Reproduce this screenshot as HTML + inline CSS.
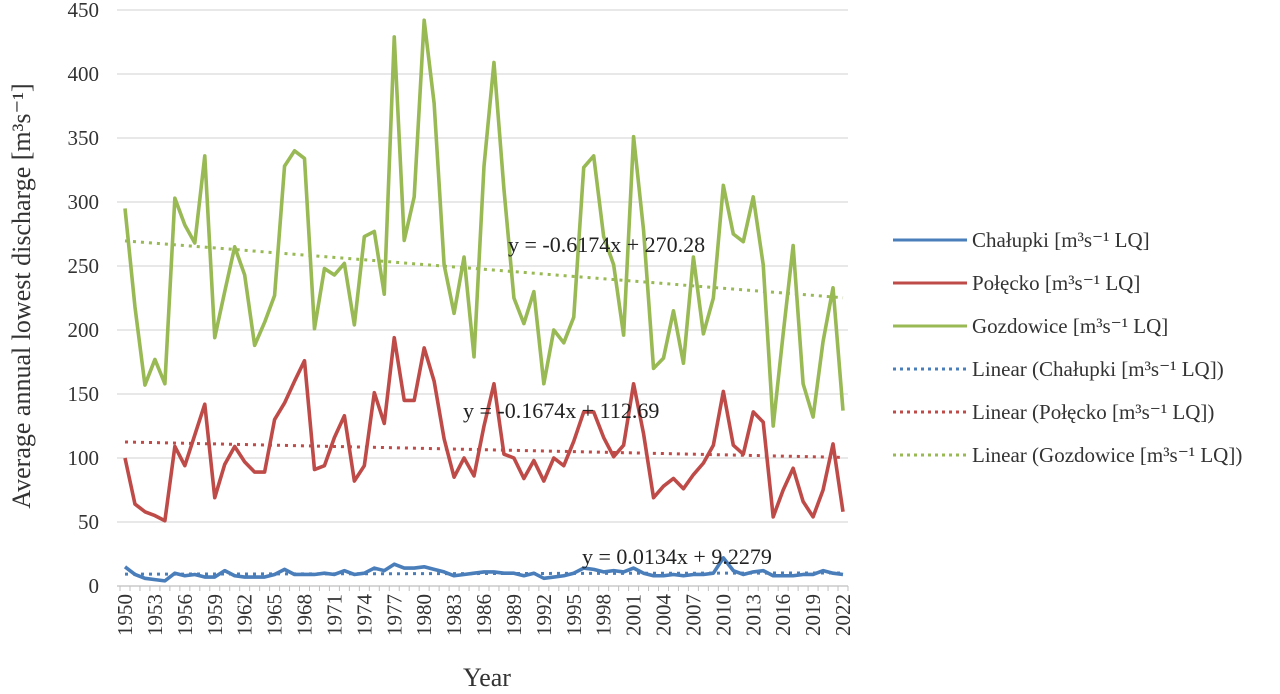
<!DOCTYPE html>
<html><head><meta charset="utf-8"><style>
html,body{margin:0;padding:0;background:#fff;}
svg{display:block;font-family:"Liberation Serif",serif;}
</style></head><body>
<svg id="chart" width="1280" height="694" viewBox="0 0 1280 694"></svg>
<script>
const years = [];
for (let y = 1950; y <= 2022; y++) years.push(y);
const chalupki = [15,9,6,5,4,10,8,9,7,7,12,8,7,7,7,9,13,9,9,9,10,9,12,9,10,14,12,17,14,14,15,13,11,8,9,10,11,11,10,10,8,10,6,7,8,10,14,13,11,12,11,14,10,8,8,9,8,9,9,10,22,12,9,11,12,8,8,8,9,9,12,10,9];
const polecko = [100,64,58,55,51,109,94,118,142,69,95,109,97,89,89,130,143,160,176,91,94,116,133,82,94,151,127,194,145,145,186,160,115,85,100,86,125,158,103,100,84,98,82,100,94,113,136,136,116,101,110,158,119,69,78,84,76,87,96,110,152,110,103,136,128,54,75,92,66,54,75,111,58];
const gozdowice = [295,218,157,177,158,303,282,268,336,194,230,265,243,188,206,227,328,340,334,201,248,243,252,204,273,277,228,429,270,304,442,377,251,213,257,179,328,409,310,225,205,230,158,200,190,210,327,336,273,251,196,351,278,170,178,215,174,257,197,225,313,275,269,304,251,125,197,266,158,132,191,233,137];
const yTicks = [0,50,100,150,200,250,300,350,400,450];
const trendSlopes = [0.0134,-0.1674,-0.6174];
const trendIntercepts = [9.2279,112.69,270.28];
const seriesNames = ["Chałupki","Połęcko","Gozdowice"];
const colors = ["#4a7ebb","#be4b48","#98b954"];
const eqLabels = ["y = 0.0134x + 9.2279","y = -0.1674x + 112.69","y = -0.6174x + 270.28"];

const svg = document.getElementById('chart');
const NS = 'http://www.w3.org/2000/svg';
const X0 = 125, STEP = (843-125)/72, Y0 = 586, YS = 576/450;
const xs = i => X0 + i*STEP;
const ys = v => Y0 - v*YS;
function mk(tag, attrs, parent){const e=document.createElementNS(NS,tag);for(const k in attrs)e.setAttribute(k,attrs[k]);(parent||svg).appendChild(e);return e;}

yTicks.forEach(t=>{
  const g = mk('line',{x1:117,x2:848,y1:ys(t),y2:ys(t),stroke:t===0?'#bfbfbf':'#d9d9d9','stroke-width':1.3});
  
  
  const l = mk('text',{x:99,y:ys(t)+7,'text-anchor':'end','font-size':21,fill:'#333'});
  l.textContent = t;
  
  
});
for(let i=0;i<=73;i++){
  const xx = X0 - STEP/2 + i*STEP;
  const tk = mk('line',{x1:xx,x2:xx,y1:586,y2:591,stroke:'#bfbfbf','stroke-width':1});
  
  
}
years.forEach((y,i)=>{
  if((y-1950)%3!==0) return;
  const t = mk('text',{x:0,y:0,'font-size':21,fill:'#333','text-anchor':'end',transform:`translate(${xs(i)+7},594) rotate(-90)`});
  t.textContent = y;
  
  
});
trendSlopes.forEach((a,k)=>{
  const b = trendIntercepts[k];
  const tl = mk('line',{x1:xs(0),y1:ys(a*1+b),x2:xs(72),y2:ys(a*73+b),stroke:colors[k],'stroke-width':3,'stroke-dasharray':'3 5'});
  
  
});
[chalupki,polecko,gozdowice].forEach((arr,k)=>{
  const p = mk('polyline',{points:arr.map((v,i)=>xs(i)+','+ys(v)).join(' '),fill:'none',stroke:colors[k],'stroke-width':3.6,'stroke-linejoin':'round'});
  
  
});
const eqPos = [[582,564],[463,418],[508,252]];
eqLabels.forEach((s,k)=>{
  const t = mk('text',{x:eqPos[k][0],y:eqPos[k][1],'font-size':22,fill:'#222'});
  t.textContent = s;
  
  
});
const yt = mk('text',{x:0,y:0,'font-size':26,fill:'#333','text-anchor':'middle',transform:'translate(30,296) rotate(-90)'});
yt.textContent = 'Average annual lowest discharge [m³s⁻¹]';


const xt = mk('text',{x:487,y:686,'font-size':26,fill:'#333','text-anchor':'middle'});
xt.textContent = 'Year';


const legTexts = ["Chałupki  [m³s⁻¹ LQ]","Połęcko [m³s⁻¹ LQ]","Gozdowice [m³s⁻¹ LQ]","Linear (Chałupki [m³s⁻¹ LQ])","Linear (Połęcko [m³s⁻¹ LQ])","Linear (Gozdowice [m³s⁻¹ LQ])"];
legTexts.forEach((s,k)=>{
  const yy = 240 + k*43;
  const c = colors[k%3];
  const ln = mk('line',{x1:893,x2:967,y1:yy,y2:yy,stroke:c,'stroke-width':3,'stroke-dasharray':k<3?'none':'3 4'});
  
  
  const t = mk('text',{x:972,y:yy+7,'font-size':21,fill:'#333'});
  t.textContent = s;
  
  
});
</script>
</body></html>
